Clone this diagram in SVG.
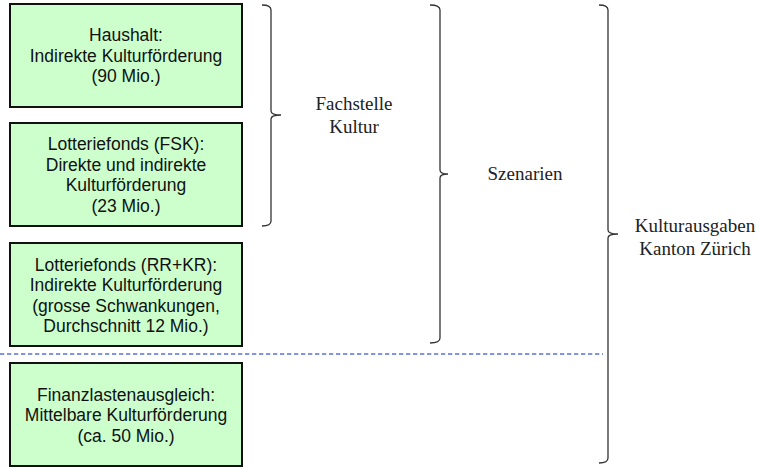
<svg xmlns="http://www.w3.org/2000/svg" width="759" height="468" viewBox="0 0 759 468">
<style>
.box{fill:#CCFFCC;stroke:#111;stroke-width:2}
.bt{font-family:"Liberation Sans",Arial,sans-serif;font-size:17.5px;fill:#111;text-anchor:middle}
.lbl{font-family:"Liberation Serif","Times New Roman",serif;font-size:19px;fill:#222;text-anchor:middle}
.brace{fill:none;stroke:#333;stroke-width:1.3}
</style>
<rect width="759" height="468" fill="#fff"/>
<g id="node-haushalt">
<rect class="box" x="10" y="4" width="232" height="103"/>
<text class="bt" x="126" y="41.3">Haushalt:</text>
<text class="bt" x="126" y="61.8">Indirekte Kulturförderung</text>
<text class="bt" x="126" y="82.3">(90 Mio.)</text>
</g>
<g id="node-fsk">
<rect class="box" x="10" y="123" width="232" height="103"/>
<text class="bt" x="126" y="150">Lotteriefonds (FSK):</text>
<text class="bt" x="126" y="170.5">Direkte und indirekte</text>
<text class="bt" x="126" y="191">Kulturförderung</text>
<text class="bt" x="126" y="211.5">(23 Mio.)</text>
</g>
<g id="node-rrkr">
<rect class="box" x="10" y="243" width="232" height="103"/>
<text class="bt" x="126" y="270.5">Lotteriefonds (RR+KR):</text>
<text class="bt" x="126" y="291">Indirekte Kulturförderung</text>
<text class="bt" x="126" y="311.5">(grosse Schwankungen,</text>
<text class="bt" x="126" y="332">Durchschnitt 12 Mio.)</text>
</g>
<g id="node-fla">
<rect class="box" x="10" y="363" width="232" height="103"/>
<text class="bt" x="126" y="400.8">Finanzlastenausgleich:</text>
<text class="bt" x="126" y="421.3">Mittelbare Kulturförderung</text>
<text class="bt" x="126" y="441.8">(ca. 50 Mio.)</text>
</g>
<g id="connectors">
<line x1="0" y1="354" x2="603" y2="354" stroke="#5B73D6" stroke-width="1.3" stroke-dasharray="4.3 2.7"/>
<path class="brace" d="M262,5 Q271,5 271,10 L271,111 Q271,115 281,115 Q271,115 271,119 L271,221 Q271,226 262,226"/>
<path class="brace" d="M430,5 Q440,5 440,10 L440,170 Q440,174 448,174 Q440,174 440,178 L440,338 Q440,343 430,343"/>
<path class="brace" d="M599,5 Q608,5 608,10 L608,230 Q608,234 618,234 Q608,234 608,238 L608,458 Q608,463 599,463" stroke-width="1.6"/>
</g>
<g id="labels">
<text class="lbl" x="354" y="110">Fachstelle</text>
<text class="lbl" x="354" y="133">Kultur</text>
<text class="lbl" x="525" y="180">Szenarien</text>
<text class="lbl" x="695" y="232">Kulturausgaben</text>
<text class="lbl" x="695" y="255">Kanton Zürich</text>
</g>
</svg>
